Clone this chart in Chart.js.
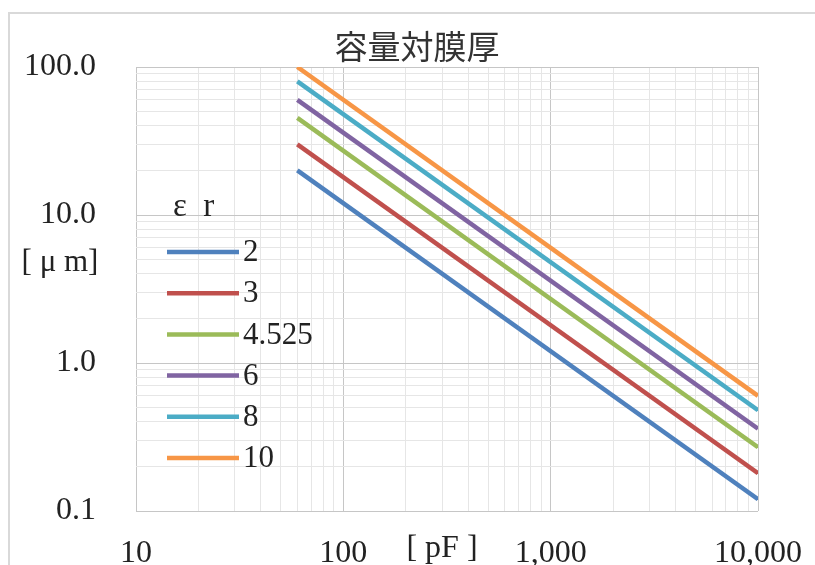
<!DOCTYPE html>
<html>
<head>
<meta charset="utf-8">
<script src="https://cdn.jsdelivr.net/npm/chart.js@4/dist/chart.umd.min.js"></script>
<style>
  html, body { margin: 0; padding: 0; background: #fff; overflow: hidden; }
  canvas { display: block; }
</style>
</head>
<body>
<canvas id="chart" width="815" height="565"></canvas>
<script>
// capacitance [pF] at both ends of each line
const capacitance = [60, 10000];
// relative permittivity of each series
const epsLabels = ["2", "3", "4.525", "6", "8", "10"];
// film thickness [um] read at 60 pF and 10,000 pF
const thickEps2 = [20.0, 0.12];
const thickEps3 = [30.0, 0.18];
const thickEps4525 = [45.3, 0.27];
const thickEps6 = [60.0, 0.36];
const thickEps8 = [80.0, 0.48];
const thickEps10 = [100.0, 0.60];

const xDecades = [10, 100, 1000, 10000];
const xTickLabels = ["10", "100", "1,000", "10,000"];
const yDecades = [0.1, 1, 10, 100];
const yTickLabels = ["0.1", "1.0", "10.0", "100.0"];

const colors = ["#4f81bd", "#c0504d", "#9bbb59", "#8064a2", "#4bacc6", "#f79646"];
const series = [thickEps2, thickEps3, thickEps4525, thickEps6, thickEps8, thickEps10];

const SERIF = "'Liberation Serif', 'Times New Roman', serif";

// gridline positions: 1..9 inside every decade
function logGrid(decades) {
  const out = [];
  for (let i = 0; i < decades.length - 1; i++) {
    for (let k = 1; k < 10; k++) out.push(+(k * decades[i]).toPrecision(6));
  }
  out.push(decades[decades.length - 1]);
  return out;
}
function isDecade(v, decades) {
  return decades.some(d => Math.abs(v - d) / d < 1e-6);
}
// tick label overflow should not shrink the plot area
function noPad(s) {
  s.paddingLeft = 0; s.paddingRight = 0; s.paddingTop = 0; s.paddingBottom = 0;
}

// frame, title, unit labels and legend
const decorations = {
  id: "decorations",
  beforeDraw(chart) {
    const ctx = chart.ctx;
    ctx.save();
    ctx.strokeStyle = "#d9d9d9";
    ctx.lineWidth = 2;
    ctx.beginPath();
    ctx.moveTo(9, 565);
    ctx.lineTo(9, 13);
    ctx.lineTo(815, 13);
    ctx.stroke();
    ctx.restore();
  },
  afterDraw(chart) {
    const ctx = chart.ctx;
    ctx.save();
    ctx.fillStyle = "#333";
    ctx.textBaseline = "middle";
    ctx.textAlign = "center";
    ctx.font = "33px 'Noto Sans CJK JP'";
    ctx.fillText("容量対膜厚", 417, 46);

    ctx.fillStyle = "#222";
    ctx.font = "31px " + SERIF;
    ctx.fillText("[ μ m]", 60, 263);
    ctx.font = "32px " + SERIF;
    ctx.fillText("[ pF ]", 442, 549);

    // legend
    ctx.textAlign = "left";
    ctx.font = "33px " + SERIF;
    ctx.fillText("ε  r", 173, 207);
    ctx.font = "31px " + SERIF;
    chart.data.datasets.forEach((ds, i) => {
      const y = 252 + i * 41.2;
      ctx.strokeStyle = ds.borderColor;
      ctx.lineWidth = 4.5;
      ctx.beginPath();
      ctx.moveTo(167, y);
      ctx.lineTo(239, y);
      ctx.stroke();
      ctx.fillText(ds.label, 243, y + 1);
    });
    ctx.restore();
  }
};

new Chart(document.getElementById("chart"), {
  type: "line",
  data: {
    datasets: series.map((vals, i) => ({
      label: epsLabels[i],
      data: capacitance.map((c, j) => ({ x: c, y: vals[j] })),
      borderColor: colors[i],
      backgroundColor: colors[i],
      borderWidth: 4.5,
      pointRadius: 0,
      tension: 0,
    })),
  },
  options: {
    responsive: false,
    animation: false,
    devicePixelRatio: 1,
    layout: { padding: { top: 67, right: 57, left: 0, bottom: 0 } },
    plugins: {
      legend: { display: false },
      title: { display: false },
      tooltip: { enabled: false },
    },
    scales: {
      x: {
        type: "logarithmic",
        min: 10,
        max: 10000,
        afterBuildTicks: s => { s.ticks = logGrid(xDecades).map(v => ({ value: v })); },
        afterFit: s => { s.height = 54; noPad(s); },
        border: { display: false },
        grid: {
          drawTicks: false,
          color: c => isDecade(c.tick.value, xDecades) ? "#c6c6c6" : "#e6e6e6",
          lineWidth: 1,
        },
        ticks: {
          autoSkip: false,
          maxRotation: 0,
          padding: 23,
          color: "#222",
          font: { family: SERIF, size: 32 },
          callback: v => {
            const i = xDecades.findIndex(d => Math.abs(v - d) / d < 1e-6);
            return i >= 0 ? xTickLabels[i] : "";
          },
        },
      },
      y: {
        type: "logarithmic",
        min: 0.1,
        max: 100,
        afterBuildTicks: s => { s.ticks = logGrid(yDecades).map(v => ({ value: v })); },
        afterFit: s => { s.width = 136; noPad(s); },
        border: { display: false },
        grid: {
          drawTicks: false,
          color: c => isDecade(c.tick.value, yDecades) ? "#c6c6c6" : "#e6e6e6",
          lineWidth: 1,
        },
        ticks: {
          autoSkip: false,
          padding: 40,
          color: "#222",
          font: { family: SERIF, size: 32 },
          callback: v => {
            const i = yDecades.findIndex(d => Math.abs(v - d) / d < 1e-6);
            return i >= 0 ? yTickLabels[i] : "";
          },
        },
      },
    },
  },
  plugins: [decorations],
});
</script>
</body>
</html>
